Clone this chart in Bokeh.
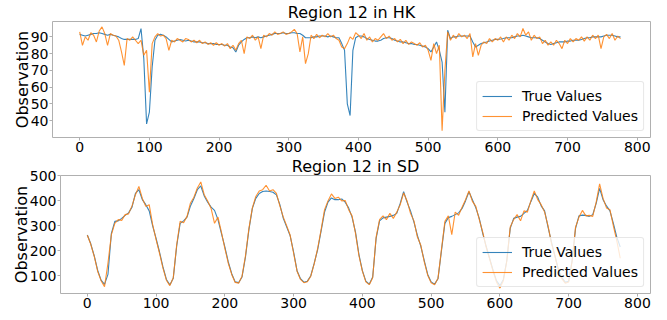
from bokeh.plotting import figure
from bokeh.models import Range1d, FixedTicker, Legend, LegendItem, ColumnDataSource
from bokeh.embed import file_html
from bokeh.resources import INLINE

# ---------------- data ----------------
x_ticks = [0, 100, 200, 300, 400, 500, 600, 700, 800]
hk_y_ticks = [40, 50, 60, 70, 80, 90]
sd_y_ticks = [100, 200, 300, 400, 500]

hk_step = 4
hk_true = [
    91.5, 91, 90.5, 91, 91.5, 92, 92, 92.5, 92, 91.5,
    91, 91.5, 91, 90.5, 90, 89, 88.5, 88.5, 88.5, 88.5,
    88.5, 89, 95, 77, 38, 45, 72, 88, 91, 91.5,
    91, 90, 88.5, 87, 87.5, 88, 88.5, 88, 87.5, 88,
    87.5, 87, 87, 87, 86.5, 86.5, 86, 86, 86, 85.5,
    85.5, 85.5, 85, 85, 84, 83.5, 81, 85, 87, 88.5,
    89.5, 89.5, 90, 89.5, 90, 89.5, 90, 90.5, 91, 91.5,
    92, 92, 92, 92.5, 92, 92, 92.5, 92.5, 92, 92,
    91, 89.5, 89.5, 89.5, 90, 90, 90.5, 90.5, 90.5, 90,
    90.5, 90, 89.5, 89.5, 86, 82, 50, 43, 82, 89.5,
    90.5, 90.5, 90, 89, 88.5, 88, 87.5, 87.5, 88, 89,
    89.5, 89.5, 89, 88, 87.5, 87, 87, 86.5, 86, 86,
    85.5, 85.5, 85, 84.5, 84, 83, 81, 84, 87, 82,
    75, 45, 94, 89, 90, 90, 90.5, 90.5, 90.5, 90.5,
    90.5, 87, 84, 85, 86, 86.5, 87, 87.5, 88, 88.5,
    88.5, 88.7, 89, 89.5, 89.5, 89.5, 90, 90.5, 90.5, 91,
    90.5, 90, 89.5, 89.5, 89.5, 89, 88, 87, 86, 85.5,
    86, 86.5, 87, 87, 87, 87.5, 87.5, 88, 88, 88,
    88.5, 89, 89.5, 89.5, 90, 90, 90, 90, 90.5, 91,
    91, 91, 90.5, 90, 90,
]
hk_pred = [
    93, 85, 90, 88, 92.5, 91, 87, 93.5, 96, 92,
    85, 92, 91, 90.5, 88, 81, 73, 89, 88, 90,
    88, 86, 88, 79, 82, 57, 86, 90, 92, 90.5,
    91, 89, 82, 88, 87, 89, 88, 87, 89, 88.5,
    87, 88, 86.5, 88, 86, 87, 85.5, 86.5, 85, 86.5,
    85, 86, 84.5, 86, 83, 85, 82, 86, 88, 80,
    90, 89, 91, 88, 90, 83, 91, 90, 92, 91,
    93, 91.5, 92, 93, 91.5, 92, 93, 94.5, 92, 81,
    90, 74, 80, 91, 89, 91.5, 89.5, 91, 90, 92,
    90, 91, 89, 88, 84, 83, 86, 90, 88.5, 92.5,
    91, 89, 92, 88, 90, 87, 89, 88, 90, 92,
    89, 90.5, 88, 89, 87, 88.5, 86, 88, 85.5, 87,
    86, 85, 86.5, 84, 85, 82, 76, 86, 80, 85,
    34, 70, 93, 88, 91, 89, 92, 90, 91, 89,
    92, 78, 86, 79, 85, 87, 86, 89, 87, 89,
    88, 90, 87, 90, 88, 91, 89, 92, 90, 95,
    91, 93, 88, 91, 89, 90, 86, 88, 85, 87,
    85, 88, 86, 83, 88, 86, 89, 87, 89, 88,
    90, 87.5, 90, 88, 91, 89, 91, 83, 90, 91.5,
    89, 92, 88, 90.5, 89,
]

sd_step = 5
sd_true = [
    263, 228, 180, 122, 82, 65, 105, 270, 318, 320,
    330, 342, 352, 375, 430, 445, 405, 385, 360, 300,
    250, 195, 135, 85, 63, 90, 220, 310, 320, 335,
    380, 410, 445, 460, 420, 395, 375, 362, 325, 270,
    216, 155, 108, 75, 72, 95, 175, 285, 370, 410,
    430, 438, 440, 438, 435, 424, 385, 330, 295, 260,
    195, 120, 88, 74, 78, 100, 150, 205, 280, 355,
    395, 412, 405, 405, 408, 395, 372, 335, 275, 185,
    120, 78, 66, 95, 250, 320, 332, 335, 338, 342,
    350, 390, 437, 395, 360, 315, 262, 218, 160, 105,
    75, 66, 88, 200, 310, 333, 338, 345, 352, 370,
    400, 437, 405, 372, 330, 270, 218, 170, 122, 80,
    60, 85, 160, 290, 330, 335, 338, 350, 362, 397,
    430, 415, 380, 360, 295, 235, 180, 125, 92, 74,
    78, 160, 290, 340, 343, 342, 338, 345, 390, 450,
    405, 380, 360, 310, 255, 215,
]
sd_pred = [
    262, 226, 178, 118, 80, 56, 150, 265, 310, 325,
    322, 345, 348, 380, 425, 458, 410, 378, 385, 305,
    245, 190, 130, 82, 60, 92, 225, 318, 312, 338,
    392, 415, 452, 476, 425, 400, 370, 310, 335, 275,
    210, 150, 105, 73, 70, 98, 180, 290, 372, 418,
    440, 445, 463, 440, 445, 430, 380, 335, 300, 262,
    190, 118, 85, 72, 76, 98, 148, 210, 285, 365,
    400, 428, 410, 415, 400, 402, 365, 340, 270, 180,
    118, 75, 64, 92, 255, 325, 340, 325, 350, 330,
    355, 385, 432, 400, 350, 320, 255, 222, 155, 102,
    72, 64, 90, 205, 318, 340, 265, 355, 342, 375,
    405, 440, 398, 378, 325, 275, 215, 168, 118, 75,
    50, 80, 158, 295, 325, 345, 320, 360, 355, 400,
    440, 405, 385, 355, 300, 230, 178, 122, 88, 70,
    75, 158, 295, 335, 362, 340, 342, 338, 395, 468,
    410, 372, 365, 300, 240, 170,
]

FONT = "DejaVu Sans"
BLUE = "#1f77b4"
ORANGE = "#ff7f0e"
FRAME = "#b0b0b0"


def make_panel(title, step, true_vals, pred_vals, y_ticks, y_range,
               frame_w, frame_h, left):
    p = figure(frame_width=frame_w, frame_height=frame_h,
               output_backend="svg", toolbar_location=None,
               x_range=Range1d(-39, 819), y_range=Range1d(*y_range),
               min_border_left=left, min_border_right=10,
               min_border_top=0, min_border_bottom=0)
    p.title.text = title
    p.title.align = "center"
    p.title.text_font = FONT
    p.title.text_font_size = "16px"
    p.title.text_font_style = "normal"
    p.title.text_color = "#000000"
    p.title.standoff = 0
    p.title.offset = 0

    src_t = ColumnDataSource(dict(x=[step * i for i in range(len(true_vals))], y=true_vals))
    src_p = ColumnDataSource(dict(x=[step * i for i in range(len(pred_vals))], y=pred_vals))
    r1 = p.line("x", "y", source=src_t, line_color=BLUE, line_width=1.1, line_alpha=0.9)
    r2 = p.line("x", "y", source=src_p, line_color=ORANGE, line_width=1.1, line_alpha=0.85)

    p.grid.visible = False
    p.outline_line_color = FRAME
    p.outline_line_width = 1
    p.background_fill_color = "white"
    p.border_fill_color = "white"

    for ax in (p.xaxis[0], p.yaxis[0]):
        ax.axis_line_color = None
        ax.major_tick_line_color = FRAME
        ax.major_tick_out = 3
        ax.major_tick_in = 0
        ax.minor_tick_out = 0
        ax.minor_tick_in = 0
        ax.major_label_text_font = FONT
        ax.major_label_text_font_size = "14px"
        ax.major_label_text_color = "#000000"
        ax.major_label_standoff = 1
    p.xaxis.ticker = FixedTicker(ticks=x_ticks)
    p.yaxis.ticker = FixedTicker(ticks=y_ticks)
    p.yaxis.axis_label = "Observation"
    p.yaxis.axis_label_text_font = FONT
    p.yaxis.axis_label_text_font_size = "16px"
    p.yaxis.axis_label_text_font_style = "normal"
    p.yaxis.axis_label_text_color = "#000000"
    p.yaxis.axis_label_standoff = -4

    legend = Legend(items=[LegendItem(label="True Values", renderers=[r1]),
                           LegendItem(label="Predicted Values", renderers=[r2])],
                    location="bottom_right")
    legend.label_text_font = FONT
    legend.label_text_font_size = "14px"
    legend.label_text_color = "#000000"
    legend.glyph_width = 30
    legend.glyph_height = 18
    legend.label_height = 18
    legend.spacing = 2
    legend.padding = 5
    legend.margin = 6
    legend.label_standoff = 10
    legend.border_line_color = "#d0d0d0"
    legend.border_line_width = 1
    legend.background_fill_alpha = 0.8
    legend.border_radius = 3
    p.add_layout(legend)
    return p


top = make_panel("Region 12 in HK", hk_step, hk_true, hk_pred, hk_y_ticks,
                 (29.9, 99.2), 598, 116, 52)
bottom = make_panel("Region 12 in SD", sd_step, sd_true, sd_pred, sd_y_ticks,
                    (28.5, 502), 590, 118, 60)

open("out.html", "w").write(file_html([top, bottom], INLINE))
